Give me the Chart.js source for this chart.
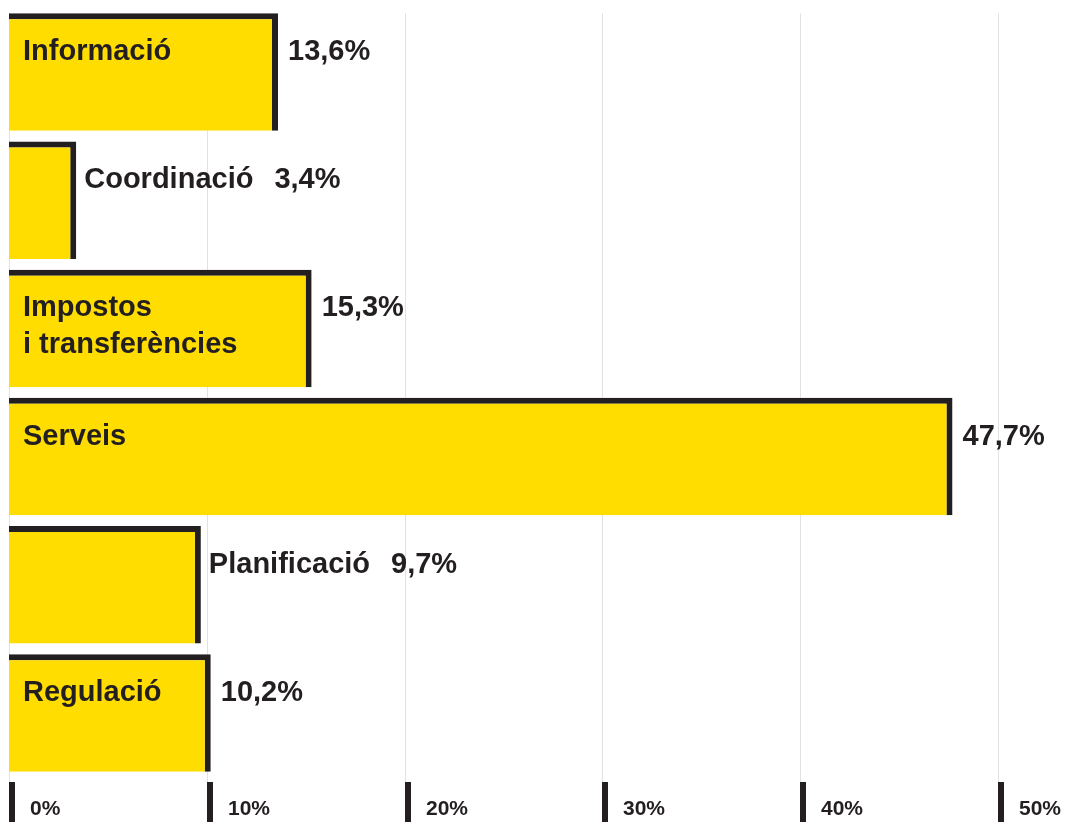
<!DOCTYPE html>
<html lang="ca">
<head>
<meta charset="utf-8">
<title>Distribució per tipus</title>
<script src="https://cdn.jsdelivr.net/npm/chart.js@4.4.1/dist/chart.umd.min.js"></script>
<style>
    html, body { margin: 0; padding: 0; background: #ffffff; }
    #wrap { position: relative; width: 1065px; height: 822px; }
</style>
</head>
<body>
<div id="wrap"><canvas id="typeChart"></canvas></div>
<script>
// Categories (one entry per line of the label) and their shares in %
const categories = [
    ['Informació'],
    ['Coordinació'],
    ['Impostos', 'i transferències'],
    ['Serveis'],
    ['Planificació'],
    ['Regulació']
];
const values = [13.6, 3.4, 15.3, 47.7, 9.7, 10.2];
const tickValues = [0, 10, 20, 30, 40, 50];

const YELLOW = '#ffdd00';
const INK = '#231f20';
const GRID = '#e2e2e2';
const FONT = '"Liberation Sans", Arial, sans-serif';
const BORDER = 6;

const fmtPct = v => v.toFixed(1).replace('.', ',') + '%';

// Light vertical gridlines plus the heavy tick marks and labels along the bottom
const axisPlugin = {
    id: 'axisMarks',
    beforeDatasetsDraw(chart) {
        const { ctx, scales: { x } } = chart;
        const bars = chart.getDatasetMeta(0).data;
        const top = bars[0].y - bars[0].height / 2;
        const tickTop = chart.chartArea.bottom + 5;
        ctx.save();
        ctx.strokeStyle = GRID;
        ctx.lineWidth = 1;
        tickValues.forEach(v => {
            const px = Math.round(x.getPixelForValue(v)) + 0.5;
            ctx.beginPath();
            ctx.moveTo(px, top);
            ctx.lineTo(px, tickTop);
            ctx.stroke();
        });
        ctx.restore();
    },
    afterDraw(chart) {
        const { ctx, scales: { x } } = chart;
        const tickTop = chart.chartArea.bottom + 5;
        ctx.save();
        ctx.fillStyle = INK;
        ctx.font = `bold 21px ${FONT}`;
        ctx.textBaseline = 'middle';
        tickValues.forEach(v => {
            const px = Math.round(x.getPixelForValue(v));
            ctx.fillRect(px, tickTop, 6, chart.height - tickTop);
            ctx.fillText(v + '%', px + 21, tickTop + 27);
        });
        ctx.restore();
    }
};

// Category name (inside the bar when it fits) and value next to each bar
const labelPlugin = {
    id: 'barLabels',
    afterDatasetsDraw(chart) {
        const ctx = chart.ctx;
        const bars = chart.getDatasetMeta(0).data;
        ctx.save();
        ctx.fillStyle = INK;
        ctx.font = `bold 29px ${FONT}`;
        ctx.textBaseline = 'middle';
        bars.forEach((bar, i) => {
            const lines = categories[i];
            const left = bar.base;
            const right = bar.x;
            const y0 = bar.y - 20;
            const nameW = Math.max(...lines.map(l => ctx.measureText(l).width));
            const fits = nameW + 2 * 16 + BORDER < right - left;
            if (fits) {
                lines.forEach((l, k) => ctx.fillText(l, left + 14, y0 + k * 37));
                ctx.fillText(fmtPct(values[i]), right + 10, y0);
            } else {
                const name = lines.join(' ');
                ctx.fillText(name, right + 8, y0);
                ctx.fillText(fmtPct(values[i]), right + 8 + ctx.measureText(name).width + 21, y0);
            }
        });
        ctx.restore();
    }
};

const ctx = document.getElementById('typeChart').getContext('2d');
const chart = new Chart(ctx, {
    type: 'bar',
    data: {
        labels: categories,
        datasets: [{
            data: values,
            backgroundColor: YELLOW,
            borderColor: INK,
            borderWidth: { top: BORDER, right: BORDER, bottom: 0, left: 0 },
            borderSkipped: false,
            barPercentage: 0.917,
            categoryPercentage: 1
        }]
    },
    options: {
        indexAxis: 'y',
        responsive: true,
        maintainAspectRatio: false,
        animation: false,
        layout: {
            padding: { left: 9, right: 67, top: 8, bottom: 45 }
        },
        plugins: {
            legend: { display: false },
            tooltip: { enabled: false }
        },
        scales: {
            x: {
                display: false,
                min: 0,
                max: 50
            },
            y: {
                display: false
            }
        }
    },
    plugins: [axisPlugin, labelPlugin]
});
</script>
</body>
</html>
